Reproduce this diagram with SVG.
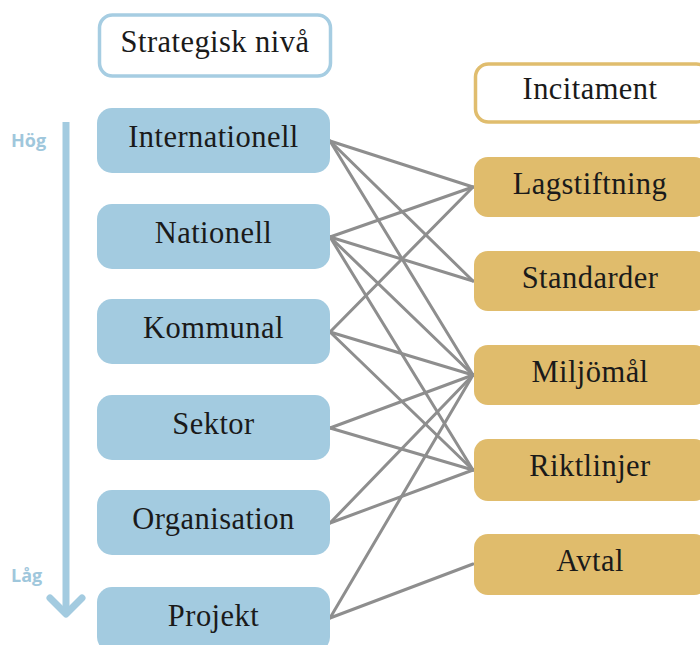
<svg xmlns="http://www.w3.org/2000/svg" width="700" height="645" viewBox="0 0 700 645">
<style>
.lb{fill:#a3cbe0}
.rb{fill:#e0bc6c}
.hl{fill:#fff;stroke:#a6cde2;stroke-width:3.5}
.hr{fill:#fff;stroke:#e0bd6e;stroke-width:3.5}
.t{font-family:"Liberation Serif","Times New Roman",serif;font-size:30.5px;letter-spacing:0.45px;fill:#1a1a1a;text-anchor:middle}
.s{font-family:"Open Sans","DejaVu Sans",sans-serif;font-weight:bold;font-size:18px;fill:#9fc7dc}
.c line{stroke:#8e8e8e;stroke-width:3;stroke-linecap:round}
</style>
<g id="axis">
<line x1="66" y1="122" x2="66" y2="612" stroke="#a3cbe0" stroke-width="7"/>
<polyline points="50,598 66,614 82,598" fill="none" stroke="#a3cbe0" stroke-width="7" stroke-linecap="round" stroke-linejoin="round"/>
<text class="s" x="11" y="147">Hög</text>
<text class="s" x="11" y="582">Låg</text>
</g>
<g class="c" id="connectors">
<line x1="330" y1="141" x2="473" y2="187"/>
<line x1="330" y1="141" x2="473" y2="281"/>
<line x1="330" y1="141" x2="473" y2="375"/>
<line x1="330" y1="237" x2="473" y2="187"/>
<line x1="330" y1="237" x2="473" y2="281"/>
<line x1="330" y1="237" x2="473" y2="375"/>
<line x1="330" y1="237" x2="473" y2="470"/>
<line x1="330" y1="332" x2="473" y2="187"/>
<line x1="330" y1="332" x2="473" y2="375"/>
<line x1="330" y1="332" x2="473" y2="470"/>
<line x1="330" y1="428" x2="473" y2="375"/>
<line x1="330" y1="428" x2="473" y2="470"/>
<line x1="330" y1="523" x2="473" y2="375"/>
<line x1="330" y1="523" x2="473" y2="470"/>
<line x1="330" y1="618" x2="473" y2="375"/>
<line x1="330" y1="618" x2="473" y2="564"/>
</g>
<g id="strategisk"><rect class="hl" x="99.5" y="15" width="231" height="61" rx="13"/><text class="t" x="215" y="52">Strategisk nivå</text></g>
<g id="incitament"><rect class="hr" x="475.5" y="64" width="234" height="58" rx="13"/><text class="t" x="590" y="99">Incitament</text></g>
<g id="internationell"><rect class="lb" x="97" y="108" width="233" height="65" rx="15"/><text class="t" x="213.5" y="147">Internationell</text></g>
<g id="nationell"><rect class="lb" x="97" y="204" width="233" height="65" rx="15"/><text class="t" x="213.5" y="243">Nationell</text></g>
<g id="kommunal"><rect class="lb" x="97" y="299" width="233" height="65" rx="15"/><text class="t" x="213.5" y="338">Kommunal</text></g>
<g id="sektor"><rect class="lb" x="97" y="395" width="233" height="65" rx="15"/><text class="t" x="213.5" y="434">Sektor</text></g>
<g id="organisation"><rect class="lb" x="97" y="490" width="233" height="65" rx="15"/><text class="t" x="213.5" y="529">Organisation</text></g>
<g id="projekt"><rect class="lb" x="97" y="587" width="233" height="65" rx="15"/><text class="t" x="213.5" y="626">Projekt</text></g>
<g id="lagstiftning"><rect class="rb" x="474" y="157" width="234" height="60" rx="14"/><text class="t" x="590" y="194">Lagstiftning</text></g>
<g id="standarder"><rect class="rb" x="474" y="251" width="234" height="60" rx="14"/><text class="t" x="590" y="288">Standarder</text></g>
<g id="miljomal"><rect class="rb" x="474" y="345" width="234" height="60" rx="14"/><text class="t" x="590" y="382">Miljömål</text></g>
<g id="riktlinjer"><rect class="rb" x="474" y="439" width="234" height="62" rx="14"/><text class="t" x="590" y="476">Riktlinjer</text></g>
<g id="avtal"><rect class="rb" x="474" y="534" width="234" height="61" rx="14"/><text class="t" x="590" y="571">Avtal</text></g>
</svg>
